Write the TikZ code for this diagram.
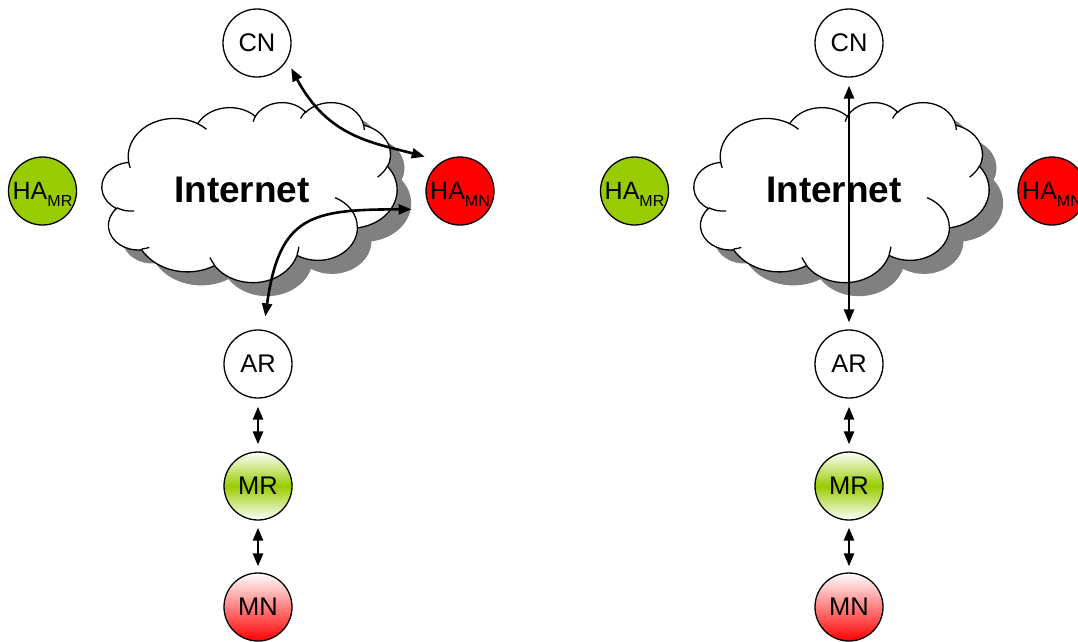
\documentclass[tikz,border=0pt]{standalone}
\usepackage{fontspec}
\setmainfont{Liberation Sans}
\usetikzlibrary{arrows.meta}
\definecolor{hagreen}{RGB}{153,204,0}
\definecolor{hared}{RGB}{255,0,0}
\definecolor{shadowgray}{RGB}{128,128,128}

% visual angle -> parametric angle of an ellipse
\newcommand\cldvis[3]{%
  \pgfmathsetmacro\cldt{atan2((#2)*sin(#1),(#3)*cos(#1))}%
  \pgfmathsetmacro\cldres{#1+mod(\cldt-(#1)+900,360)-180}%
}
\newcommand\cldarc[5]{% target, wR, hR, start, sweep
  \cldvis{#4}{#2}{#3}\let\cldsa\cldres
  \pgfmathsetmacro\cldend{#4+#5}%
  \cldvis{\cldend}{#2}{#3}\let\cldea\cldres
  \expandafter\xdef\csname #1\endcsname{\csname #1\endcsname arc[start angle=\cldsa, end angle=\cldea, x radius=#2, y radius=#3]}%
}
\newcommand\cldmove[3]{\expandafter\xdef\csname #1\endcsname{\csname #1\endcsname (#2,#3)}}

\gdef\cldpath{(39.00,143.70)}
\cldarc{cldpath}{67.53}{91.90}{-190.4875}{123.7805}
\cldarc{cldpath}{53.33}{72.67}{-144.1024}{89.9452}
\cldarc{cldpath}{43.65}{59.45}{-145.8079}{99.7230}
\cldarc{cldpath}{48.57}{65.95}{-130.9861}{117.2417}
\cldarc{cldpath}{53.33}{72.73}{-78.7089}{109.0269}
\cldarc{cldpath}{67.75}{92.20}{-46.2673}{130.2690}
\cldarc{cldpath}{57.85}{78.67}{0.6250}{114.0333}
\cldarc{cldpath}{67.52}{92.15}{22.4516}{115.1726}
\cldarc{cldpath}{77.20}{105.43}{66.2426}{75.7110}
\cldarc{cldpath}{43.60}{59.18}{-274.9421}{146.7356}
\cldarc{cldpath}{43.45}{59.45}{-246.8285}{152.5189}

\gdef\cldinner{}
\cldmove{cldinner}{46.93}{261.77}\cldarc{cldinner}{43.45}{59.45}{86.7420}{26.4295}
\cldmove{cldinner}{69.28}{348.99}\cldarc{cldinner}{43.60}{59.18}{73.6105}{11.4475}
\cldmove{cldinner}{164.78}{390.90}\cldarc{cldinner}{67.52}{92.15}{137.6242}{14.0811}
\cldmove{cldinner}{288.27}{347.51}\cldarc{cldinner}{67.52}{92.15}{6.4533}{15.9984}
\cldmove{cldinner}{341.29}{229.54}\cldarc{cldinner}{57.85}{78.67}{-70.2924}{70.9174}
\cldmove{cldinner}{417.98}{153.54}\cldarc{cldinner}{53.33}{72.73}{30.3180}{27.7515}
\cldmove{cldinner}{383.24}{54.26}\cldarc{cldinner}{48.57}{65.95}{-13.7443}{14.8589}
\cldmove{cldinner}{290.78}{39.52}\cldarc{cldinner}{48.57}{65.95}{-149.1815}{18.1954}
\cldmove{cldinner}{221.41}{47.20}\cldarc{cldinner}{43.65}{59.45}{-163.4943}{17.6864}
\cldmove{cldinner}{140.00}{51.92}\cldarc{cldinner}{67.53}{91.90}{-66.7070}{12.3194}
\cldmove{cldinner}{41.27}{157.89}\cldarc{cldinner}{67.53}{91.90}{157.6544}{11.8582}

\newcommand\drawcloud[2]{% left, top
  \begin{scope}[shift={(#1+14,#2+13.5)}, x=0.6829pt, y=-0.41667pt]
    \edef\cldcmd{\noexpand\fill[shadowgray] \cldpath -- cycle;}\cldcmd
  \end{scope}
  \begin{scope}[shift={(#1,#2)}, x=0.6829pt, y=-0.41667pt]
    \edef\cldcmd{\noexpand\filldraw[cloudline] \cldpath -- cycle;}\cldcmd
    \edef\cldcmd{\noexpand\draw[cloudline, fill=none] \cldinner;}\cldcmd
  \end{scope}
}

\tikzset{
  nd/.style={circle, draw, line width=1.3pt, minimum size=68pt, inner sep=0pt,
    font=\fontsize{25.5}{30}\selectfont},
  hand/.style={nd, font=\fontsize{25}{30}\selectfont},
  mrnode/.style={nd, top color=white, bottom color=white, middle color=hagreen},
  mnnode/.style={nd, top color=white, bottom color=hared},
  conn/.style={line width=2.6pt, {Triangle[length=13pt,width=10pt]}-{Triangle[length=13pt,width=10pt]}},
  cloudline/.style={draw=black, fill=white, line width=1.3pt, line join=round},
  cloudtext/.style={font=\fontsize{37}{44}\selectfont\bfseries},
}
\newcommand\sub[1]{\raisebox{-6.5pt}[0pt][0pt]{\fontsize{16}{16}\selectfont #1}}

\begin{document}
\begin{tikzpicture}[x=1pt, y=-1pt]
\useasboundingbox (0,0) rectangle (1078,641);

% clouds
\drawcloud{102}{102}
\drawcloud{694}{102}
\node[cloudtext] (inet1) at (242,190) {Internet};
\node[cloudtext] (inet2) at (834,190) {Internet};

% left panel nodes
\node[nd] (CN1) at (257,43) {CN};
\node[hand, fill=hagreen] (HAMR1) at (42.5,191) {HA\sub{MR}};
\node[hand, fill=hared] (HAMN1) at (460,191) {HA\sub{MN}};
\node[nd] (AR1) at (258,364) {AR};
\node[mrnode] (MR1) at (258,486) {MR};
\node[mnnode] (MN1) at (258,607) {MN};

% right panel nodes
\node[nd] (CN2) at (849,43) {CN};
\node[hand, fill=hagreen] (HAMR2) at (634.5,191) {HA\sub{MR}};
\node[hand, fill=hared] (HAMN2) at (1052,191) {HA\sub{MN}};
\node[nd] (AR2) at (849,364) {AR};
\node[mrnode] (MR2) at (849,486) {MR};
\node[mnnode] (MN2) at (849,607) {MN};

% left connectors
\draw[conn, shorten <=9pt, shorten >=18pt] (CN1.-30) to[out=-62, in=165, out looseness=1.2] (HAMN1.121);
\draw[conn, shorten <=13.5pt, shorten >=19pt] (AR1.81) to[out=82, in=180, out looseness=1.43, in looseness=1.49] (HAMN1.212);
\draw[conn, shorten <=8pt, shorten >=7pt] (AR1) -- (MR1);
\draw[conn, shorten <=7pt, shorten >=6pt] (MR1) -- (MN1);

% right connectors
\draw[conn, shorten <=8pt, shorten >=7pt] (CN2) -- (AR2);
\draw[conn, shorten <=8pt, shorten >=7pt] (AR2) -- (MR2);
\draw[conn, shorten <=7pt, shorten >=6pt] (MR2) -- (MN2);
\end{tikzpicture}
\end{document}
